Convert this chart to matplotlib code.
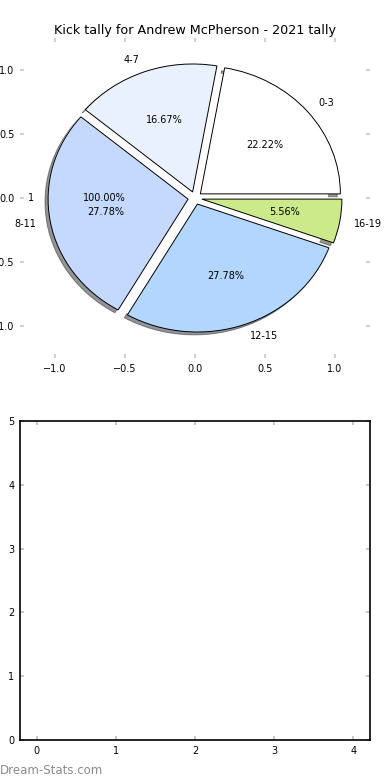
import matplotlib
matplotlib.use("Agg")
import matplotlib.pyplot as plt

# Data
title = "Kick tally for Andrew McPherson - 2021 tally"
categories = ["0-3", "4-7", "8-11", "12-15", "16-19"]
values = [4, 3, 5, 5, 1]
colors = ["#ffffff", "#eaf1fe", "#c5d9fe", "#b3d6fe", "#cdea8b"]
single_labels = ["1"]
single_values = [1]
xticks = [-1.0, -0.5, 0.0, 0.5, 1.0]
bottom_xticks = [0, 1, 2, 3, 4]
bottom_yticks = [0, 1, 2, 3, 4, 5]

plt.rcParams['font.family'] = ['DejaVu Sans']
fig = plt.figure(figsize=(3.9, 7.8), dpi=100)

ax1 = fig.add_axes([20/390, 1-358/780, 350/390, 320/780])
ax2 = fig.add_axes([20/390, 1-740/780, 350/390, 319/780])

# single white pie underneath (gives the "1" / "100.00%" texts)
ax1.pie(single_values, labels=single_labels, autopct='%1.2f%%', explode=[0.05],
        startangle=0, colors=['white'],
        wedgeprops={'edgecolor': 'white', 'linewidth': 0},
        textprops={'fontsize': 7}, frame=True)

ax1.pie(values, labels=categories, autopct='%1.2f%%', explode=[0.05]*5,
        colors=colors, shadow={'ox': -0.016, 'oy': -0.016, 'shade': 0.8},
        startangle=0,
        wedgeprops={'edgecolor': 'black', 'linewidth': 0.7},
        textprops={'fontsize': 7}, frame=True)
ax1.set_aspect('auto')
ax1.set_xlim(-1.25, 1.25)
ax1.set_ylim(-1.25, 1.25)
ax1.set_xticks(xticks)
ax1.set_yticks(xticks)
for s in ax1.spines.values():
    s.set_visible(False)
ax1.tick_params(direction='in', length=3, width=1.2, color='#c8c8c8',
                top=True, right=True, labelsize=7, pad=4)
ax1.set_title(title, fontsize=9.2, pad=3)

ax2.set_xlim(-0.21, 4.21)
ax2.set_ylim(0, 5)
ax2.set_xticks(bottom_xticks)
ax2.set_yticks(bottom_yticks)
for s in ax2.spines.values():
    s.set_linewidth(1.2)
ax2.tick_params(direction='in', length=3, width=1.5, color='#c8c8c8',
                top=True, right=True, labelsize=7, pad=4)

fig.text(0.0, 1-770/780, "Dream-Stats.com", fontsize=8.5, color='#8a8a8a',
         ha='left', va='center')

fig.savefig("out.png", dpi=100)
